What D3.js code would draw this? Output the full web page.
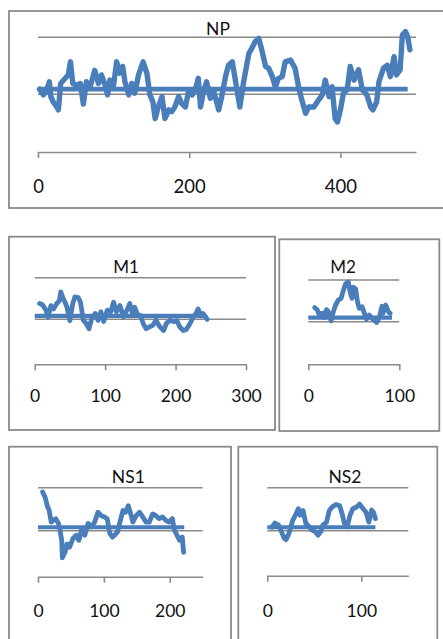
<!DOCTYPE html>
<html>
<head>
<meta charset="utf-8">
<script src="https://cdn.jsdelivr.net/npm/d3@7"></script>
<style>
body{margin:0;background:#fff;}
svg{display:block;font-family:Lato,"Open Sans",sans-serif;}
</style>
</head>
<body>
<svg id="chart" width="443" height="639"></svg>
<script>
// values: residue position + score (middle gridline = 0, top gridline = 1, axis = -1)
var npPos=[2,7,11,15,17,20,24,27,30,34,40,43,46,51,56,60,64,69,75,80,84,89,92,95,100,104,108,112,115,120,124,128,133,139,144,148,152,155,159,164,168,173,177,181,186,190,195,199,204,208,212,215,219,223,228,232,239,243,248,252,257,261,267,272,279,283,287,292,296,301,305,310,314,318,323,327,334,340,345,349,354,358,365,371,376,380,385,389,393,396,400,404,409,413,418,424,429,435,440,443,448,451,457,462,466,471,474,479,482,486,489,492];
var npVal=[0.09,-0.01,0.05,0.22,-0.04,-0.13,-0.20,-0.27,0.19,0.25,0.34,0.57,0.19,0.16,0.19,-0.17,0.22,0.13,0.42,0.19,0.34,0.15,-0.01,0.25,0.16,0.57,0.37,0.49,0.22,-0.01,0.19,0.02,0.34,0.57,0.37,-0.01,-0.13,-0.42,-0.22,-0.04,-0.42,-0.27,-0.30,-0.22,-0.04,-0.16,-0.22,0.05,-0.01,0.08,0.28,-0.22,0.05,0.22,-0.07,0.08,-0.27,-0.04,0.31,0.51,0.57,0.25,-0.22,0.22,0.72,0.81,0.92,0.98,0.78,0.49,0.46,0.31,0.13,0.28,0.31,0.57,0.60,0.46,0.11,-0.10,-0.33,-0.22,-0.22,-0.10,-0.01,0.25,-0.04,0.13,-0.42,-0.48,-0.27,0.02,0.08,0.49,0.25,0.43,0.08,-0.01,-0.22,-0.27,-0.13,0.22,0.46,0.51,0.31,0.66,0.34,0.43,1.04,1.10,1.01,0.78];
var npCut=[0.09,489];   // threshold value, last position
var npTicks=[0,200,400];
var npMax=500;

var m1Pos=[7,11,16,19,23,27,31,35,37,40,43,46,50,54,57,62,65,69,73,77,81,86,90,94,98,103,108,112,116,121,126,131,135,139,142,146,150,154,158,163,168,172,177,183,187,192,197,202,206,211,215,220,224,229,232,236,239,243,245];
var m1Val=[0.38,0.35,0.22,0.05,0.33,0.25,0.37,0.45,0.66,0.52,0.41,0.28,-0.03,0.37,0.54,0.52,0.41,-0.02,-0.09,-0.21,0.02,0.14,-0.02,0.18,-0.05,0.22,0.18,0.41,0.18,0.33,0.06,0.22,0.38,0.14,0.29,0.10,0.10,-0.09,-0.21,-0.17,-0.13,-0.02,-0.15,-0.25,-0.09,-0.02,-0.05,-0.03,-0.17,-0.25,-0.23,-0.11,0.02,0.14,0.25,0.08,0.14,0.05,0.0];
var m1Cut=[0.08,240];
var m1Ticks=[0,100,200,300];
var m1Max=300;

var m2Pos=[7,10,12,15,17,20,22,25,27,30,33,36,38,41,44,46,48,49,52,54,56,59,61,64,67,70,72,75,78,81,82,85,88,90];
var m2Val=[0.34,0.28,0.16,0.20,0.10,0.29,0.24,0.02,0.20,0.40,0.52,0.56,0.71,0.91,0.95,0.71,0.56,0.83,0.79,0.48,0.32,0.36,0.24,0.06,0.16,0.08,0.04,-0.02,0.10,0.37,0.20,0.40,0.24,0.20];
var m2Cut=[0.10,92];
var m2Ticks=[0,100];
var m2Max=100;

var ns1Pos=[7,11,14,17,20,23,27,31,33,36,37,41,44,48,53,58,62,66,71,76,81,86,91,96,101,105,109,113,116,121,125,129,133,137,140,144,149,154,159,164,169,174,179,184,189,194,199,204,207,211,215,219,221];
var ns1Val=[0.90,0.77,0.58,0.47,0.20,0.24,0.28,0.17,0.05,-0.21,-0.59,-0.47,-0.29,-0.36,-0.17,-0.10,-0.21,0.02,-0.10,0.17,0.09,0.20,0.43,0.35,0.32,0.28,-0.06,-0.14,-0.10,-0.02,0.24,0.47,0.43,0.58,0.43,0.20,0.35,0.43,0.32,0.20,0.20,0.39,0.35,0.28,0.32,0.24,0.20,0.28,0.02,-0.10,-0.21,-0.14,-0.47];
var ns1Cut=[0.08,222];
var ns1Ticks=[0,100,200];
var ns1Max=250;

var ns2Pos=[5,8,12,15,18,20,23,27,29,33,35,38,41,43,47,51,54,57,59,63,66,69,73,77,80,82,85,88,91,95,98,102,105,108,111,113,115];
var ns2Val=[0.08,0.18,0.13,-0.02,-0.17,-0.20,-0.06,0.24,0.32,0.51,0.36,0.47,0.17,0.13,0.02,-0.02,-0.10,-0.02,0.13,0.20,0.47,0.55,0.61,0.58,0.36,0.17,0.09,0.36,0.51,0.55,0.62,0.51,0.43,0.20,0.48,0.43,0.28];
var ns2Cut=[0.08,115];
var ns2Ticks=[0,100];
var ns2Max=150;

var blue="#4a7ebb", grey="#8a8a8a";

// layout of each little chart (pixels)
var panels=[
  {title:"NP", pos:npPos, val:npVal, cut:npCut, ticks:npTicks, max:npMax,
   box:[9,11,470,197], x0:38, x1:416, yT:37.3, yM:94.3, yA:152, tx:218, ty:35, tfs:17.5, fs:18.5, lab:40.7, lw:5.4},
  {title:"M1", pos:m1Pos, val:m1Val, cut:m1Cut, ticks:m1Ticks, max:m1Max,
   box:[9,236.7,266,193.3], x0:34.7, x1:246, yT:277.7, yM:319.3, yA:364.3, tx:126, ty:273.3, tfs:17, fs:17.5, lab:37.4, lw:4.8},
  {title:"M2", pos:m2Pos, val:m2Val, cut:m2Cut, ticks:m2Ticks, max:m2Max,
   box:[279.3,239.3,160,191.7], x0:308.3, x1:399.3, yT:280, yM:321.7, yA:364.3, tx:343, ty:273.3, tfs:17, fs:17.5, lab:37.7, lw:4.8},
  {title:"NS1", pos:ns1Pos, val:ns1Val, cut:ns1Cut, ticks:ns1Ticks, max:ns1Max,
   box:[9,446.7,222,220], x0:38, x1:202.7, yT:487.7, yM:530.7, yA:576.7, tx:128.3, ty:482.7, tfs:17.5, fs:17.5, lab:40, lw:4.8},
  {title:"NS2", pos:ns2Pos, val:ns2Val, cut:ns2Cut, ticks:ns2Ticks, max:ns2Max,
   box:[238.3,446.7,199,220], x0:267.3, x1:408.3, yT:487.7, yM:530.7, yA:575.7, tx:345, ty:482.7, tfs:17.5, fs:17.5, lab:41, lw:4.8}
];

var svg=d3.select("#chart");

panels.forEach(function(p){
  var g=svg.append("g");
  g.append("rect").attr("x",p.box[0]).attr("y",p.box[1]).attr("width",p.box[2]).attr("height",p.box[3])
    .attr("fill","none").attr("stroke",grey).attr("stroke-width",1.8);

  var x=d3.scaleLinear().domain([0,p.max]).range([p.x0,p.x1]);
  var y=d3.scaleLinear().domain([-1,0,1]).range([p.yA,p.yM,p.yT]);

  // gridlines at 1 and 0
  g.selectAll(".grid").data([1,0]).enter().append("line")
    .attr("x1",p.x0).attr("x2",p.x1)
    .attr("y1",function(d){return y(d);}).attr("y2",function(d){return y(d);})
    .attr("stroke",grey).attr("stroke-width",1.6);

  var ax=g.append("g").attr("transform","translate(0,"+y(-1)+")")
    .call(d3.axisBottom(x).tickValues(p.ticks).tickSize(6).tickSizeOuter(0));
  ax.select(".domain").attr("stroke",grey).attr("stroke-width",1.6);
  ax.selectAll(".tick line").attr("stroke",grey).attr("stroke-width",1.6);
  ax.selectAll(".tick text").attr("y",p.lab).attr("dy",0)
    .attr("fill","#111").style("font-size",p.fs+"px").style("font-family","Lato, 'Open Sans', sans-serif");

  // threshold line
  g.append("line").attr("x1",x(0)).attr("x2",x(p.cut[1]))
    .attr("y1",y(p.cut[0])).attr("y2",y(p.cut[0]))
    .attr("stroke",blue).attr("stroke-width",p.lw-0.6);

  var pts=p.pos.map(function(d,i){return [d,p.val[i]];});
  var line=d3.line().x(function(d){return x(d[0]);}).y(function(d){return y(d[1]);});
  g.append("path").datum(pts).attr("d",line)
    .attr("fill","none").attr("stroke",blue).attr("stroke-width",p.lw)
    .attr("stroke-linejoin","round").attr("stroke-linecap","round");

  g.append("text").attr("x",p.tx).attr("y",p.ty).attr("text-anchor","middle")
    .attr("fill","#111").style("font-size",p.tfs+"px").text(p.title);
});
</script>
</body>
</html>
